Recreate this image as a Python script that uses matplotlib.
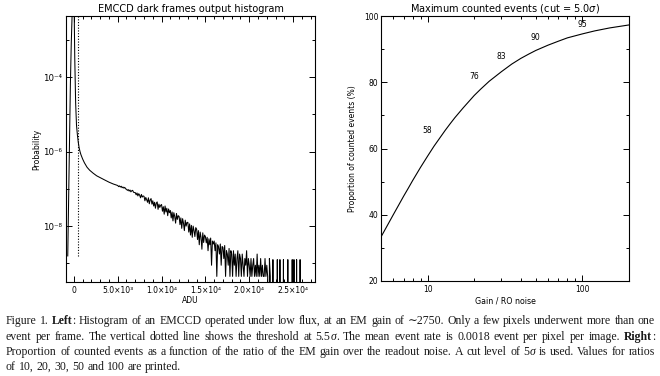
import re
import numpy as np
import matplotlib
matplotlib.use("Agg")
import matplotlib.pyplot as plt
from matplotlib.ticker import FixedLocator, FixedFormatter, MultipleLocator, NullFormatter

# ---- left panel: EMCCD dark frame histogram (log10 probability per ADU bin) ----
core_adu = [-700, -600, -500, -400, -300, -200, -100, 0, 100, 200, 300, 400,
            500, 600, 700, 800, 1000, 1200, 1500, 1800, 2200, 2600, 3000,
            3500, 4000, 4500]
core_logp = [-8.80, -7.20, -5.60, -4.20, -3.10, -2.30, -1.80, -1.60, -3.50,
             -4.70, -5.30, -5.55, -5.75, -5.90, -6.00, -6.08, -6.20, -6.30,
             -6.42, -6.50, -6.58, -6.65, -6.70, -6.76, -6.82, -6.87]

# noisy tail, 100 ADU bins starting at 5000 ADU (None = empty bin)
tail_start = 5000
tail_step = 100
tail_logp = [
    -6.91, -6.94, -6.92, -6.95, -6.93, -6.97, -6.95, -6.98, -6.96, -7.00,  # 5000
    -7.01, -7.04, -7.02, -7.06, -7.03, -7.08, -7.05, -7.04, -7.09, -7.10,  # 6000
    -7.10, -7.16, -7.11, -7.19, -7.13, -7.17, -7.24, -7.15, -7.22, -7.19,  # 7000
    -7.20, -7.32, -7.23, -7.29, -7.36, -7.24, -7.40, -7.30, -7.26, -7.41,  # 8000
    -7.32, -7.46, -7.36, -7.52, -7.38, -7.35, -7.55, -7.41, -7.50, -7.44,  # 9000
    -7.42, -7.60, -7.48, -7.68, -7.46, -7.62, -7.52, -7.72, -7.54, -7.64,  # 10000
    -7.58, -7.78, -7.62, -7.86, -7.64, -7.74, -7.92, -7.66, -7.82, -7.72,  # 11000
    -7.74, -7.96, -7.78, -8.06, -7.80, -7.92, -8.12, -7.84, -8.00, -7.90,  # 12000
    -7.90, -8.16, -7.94, -8.24, -7.98, -8.30, -8.00, -8.12, -8.28, -8.04,  # 13000
    -8.08, -8.36, -8.12, -8.50, -8.16, -8.30, -8.62, -8.18, -8.44, -8.24,  # 14000
    -8.28, -8.45, -8.30, -8.66, -8.34, -8.50, -8.32, -9.05, -8.40, -8.48,  # 15000
    -8.40, -8.66, -8.45, -9.35, -8.50, -8.57, -8.75, -8.48, -9.05, -8.55,  # 16000
    -8.57, -8.87, -8.52, -9.35, -8.66, -8.75, -9.05, -8.60, -9.35, -8.66,  # 17000
    -8.75, -9.35, -8.66, -9.05, -8.75, -9.35, -8.87, -8.66, -9.35, -8.75,  # 18000
    -8.87, -9.35, -8.75, -9.05, -9.35, -8.87, -9.05, -8.66, -9.35, -8.87,  # 19000
    -9.05, -9.35, -8.87, -9.35, -9.05, -8.87, -9.35, -9.05, -9.35, -8.75,  # 20000
    -9.35, -9.05, -9.35, -8.87, -9.35, -9.05, -9.35, -9.35, -8.87, -9.35,  # 21000
    -9.05, -9.35, None, -8.87, -9.35, None, None, -8.90, None, None,       # 22000
    None, None, -8.90, None, None, -8.90, None, None, None, -8.90,         # 23000
    None, None, None, None, -8.90, None, None, None, None, -8.90,          # 24000
    None, -8.90, None, None, -8.90, None, None, None, -8.90, None,         # 25000
    None, None, None, None, None, None, None, None, None, None,            # 26000
]
threshold_adu = 460      # 5.5 sigma cut
threshold_low = -8.8     # dotted line starts here (log10 p)

adu_ticks = [0, 5000, 10000, 15000, 20000, 25000]
adu_labels = ["0", "5.0×10³", "1.0×10⁴", "1.5×10⁴", "2.0×10⁴", "2.5×10⁴"]
prob_ticks = [1e-4, 1e-6, 1e-8]
prob_labels = ["10⁻⁴", "10⁻⁶", "10⁻⁸"]
prob_minor = [1e-3, 1e-5, 1e-7, 1e-9]

# ---- right panel: fraction of counted events vs gain / readout noise ----
gain_ratio = [5, 5.5, 6, 6.5, 7, 7.5, 8, 9, 10, 11, 12, 13, 14, 15, 17, 20,
              22, 25, 30, 35, 40, 45, 50, 60, 70, 80, 100, 120, 150, 200]
counted_pct = [33.3, 36.8, 40.0, 42.9, 45.6, 48.0, 50.3, 54.3, 57.7, 60.7,
               63.2, 65.5, 67.5, 69.3, 72.3, 76.0, 77.9, 80.3, 83.2, 85.5,
               87.2, 88.5, 89.6, 91.2, 92.4, 93.4, 94.6, 95.5, 96.4, 97.3]
label_ratio = [10, 20, 30, 50, 100]
label_pct = [58, 76, 83, 90, 95]

caption_lines = [
    "Figure 1. **Left**: Histogram of an EMCCD operated under low flux, at an EM gain of ∼2750. Only a few pixels underwent more than one",
    "event per frame. The vertical dotted line shows the threshold at 5.5σ. The mean event rate is 0.0018 event per pixel per image. **Right**:",
    "Proportion of counted events as a function of the ratio of the EM gain over the readout noise. A cut level of 5σ is used. Values for ratios",
    "of 10, 20, 30, 50 and 100 are printed.",
]

W, H = 660, 376
plt.rcParams['font.family'] = ['DejaVu Sans']
fig = plt.figure(figsize=(W / 100, H / 100), dpi=100)


def idl_axes(ax):
    for s in ax.spines.values():
        s.set_linewidth(0.8)
    ax.tick_params(which='both', direction='in', top=True, right=True,
                   width=0.7, labelsize=5.5, pad=3)
    ax.tick_params(which='major', length=4)
    ax.tick_params(which='minor', length=2.5)


# ---------------- left ----------------
ax1 = fig.add_axes([66 / W, 1 - 282 / H, 249 / W, 266 / H])
logp = np.concatenate([core_logp, np.array(tail_logp, dtype=float)])
adu = np.concatenate([core_adu, tail_start + tail_step * np.arange(len(tail_logp))])
prob = np.where(np.isnan(logp), 0.0, 10.0 ** np.nan_to_num(logp))
ax1.set_yscale('log', nonpositive='clip')
ax1.plot(adu, prob, color='black', lw=0.75)
ax1.set_xlim(-900, 27500)
ax1.set_ylim(10 ** -9.5, 10 ** -2.36)
ax1.vlines(threshold_adu, 10 ** threshold_low, 10 ** -2.36, colors='black',
           linestyles=(0, (1, 1.5)), lw=0.8)
idl_axes(ax1)
ax1.tick_params(axis='y', labelsize=6.2)
ax1.xaxis.set_major_locator(FixedLocator(adu_ticks))
ax1.xaxis.set_major_formatter(FixedFormatter(adu_labels))
ax1.xaxis.set_minor_locator(MultipleLocator(1000))
ax1.yaxis.set_major_locator(FixedLocator(prob_ticks))
ax1.yaxis.set_major_formatter(FixedFormatter(prob_labels))
ax1.yaxis.set_minor_locator(FixedLocator(prob_minor))
ax1.yaxis.set_minor_formatter(NullFormatter())
ax1.set_title("EMCCD dark frames output histogram", fontsize=7, pad=3)
ax1.set_xlabel("ADU", fontsize=5.5)
ax1.set_ylabel("Probability", fontsize=5.5)
ax1.xaxis.set_label_coords(0.5, -0.071)
ax1.xaxis.label.set_va('center')
ax1.yaxis.set_label_coords(-0.1165, 0.5)
ax1.yaxis.label.set_va('center')

# ---------------- right ----------------
ax2 = fig.add_axes([381 / W, 1 - 281 / H, 248 / W, 265 / H])
ax2.plot(gain_ratio, counted_pct, color='black', lw=0.8)
ax2.set_xscale('log')
ax2.set_xlim(5, 200)
ax2.set_ylim(20, 100)
idl_axes(ax2)
ax2.tick_params(axis='y', pad=2)
ax2.xaxis.set_major_locator(FixedLocator([10, 100]))
ax2.xaxis.set_major_formatter(FixedFormatter(["10", "100"]))
ax2.xaxis.set_minor_locator(FixedLocator([5, 6, 7, 8, 9, 20, 30, 40, 50, 60, 70, 80, 90, 200]))
ax2.xaxis.set_minor_formatter(NullFormatter())
ax2.yaxis.set_major_locator(MultipleLocator(20))
ax2.yaxis.set_minor_locator(MultipleLocator(10))
label_dy = [7.3, 5.6, 4.9, 3.4, 2.3]
for r, p, dy in zip(label_ratio, label_pct, label_dy):
    ax2.text(r, p + dy, str(p), fontsize=5.5, ha='center', va='center')
ax2.set_title(r"Maximum counted events (cut = 5.0$\sigma$)", fontsize=7, pad=3)
ax2.set_xlabel("Gain / RO noise", fontsize=5.7)
ax2.set_ylabel("Proportion of counted events (%)", fontsize=5.5)
ax2.xaxis.set_label_coords(0.5, -0.075)
ax2.xaxis.label.set_va('center')
ax2.yaxis.set_label_coords(-0.113, 0.5)
ax2.yaxis.label.set_va('center')

# ---------------- caption (justified) ----------------
renderer = fig.canvas.get_renderer()
cap_x0, cap_x1 = 6, 655
cap_font = dict(family=['Liberation Serif', 'DejaVu Serif'], size=10, color='#1a1a1a')

# size the serif font so that the first line fits the text block with normal spacing
probe = fig.text(0, 0, caption_lines[0].replace("**", ""), **cap_font)
cap_font['size'] = 10 * (cap_x1 - cap_x0) * 0.99 / probe.get_window_extent(renderer).width
probe.remove()


def advance(s, **kw):
    # ink extents drop the side bearings, so measure between two guard letters
    a = fig.text(0, 0, "x" + s + "x", **kw, **cap_font)
    b = fig.text(0, 0, "xx", **kw, **cap_font)
    w = a.get_window_extent(renderer).width - b.get_window_extent(renderer).width
    b.remove()
    a.remove()
    return w


def caption_line(text, base_px, x0, x1, justify):
    words = []
    for w in text.split(" "):
        pieces = []
        for part in re.split(r"(\*\*.+?\*\*|σ)", w):
            if not part:
                continue
            if part.startswith("**"):
                kw = dict(weight='bold')
                part = part[2:-2]
            elif part == "σ":
                kw = dict(style='italic')
            else:
                kw = {}
            t = fig.text(0, 0, part, va='baseline', **kw, **cap_font)
            pieces.append((t, advance(part, **kw)))
        words.append(pieces)
    widths = [sum(pw for _, pw in p) for p in words]
    if justify:
        gap = (x1 - x0 - sum(widths)) / (len(words) - 1)
    else:
        gap = advance(" ")
    x = x0
    for pieces in words:
        for t, pw in pieces:
            t.set_position((x / W, 1 - base_px / H))
            x += pw
        x += gap


baselines = [324, 340, 355, 370]
for i, line in enumerate(caption_lines):
    caption_line(line, baselines[i], cap_x0, cap_x1, i < len(caption_lines) - 1)

fig.savefig("out.png", dpi=100)
